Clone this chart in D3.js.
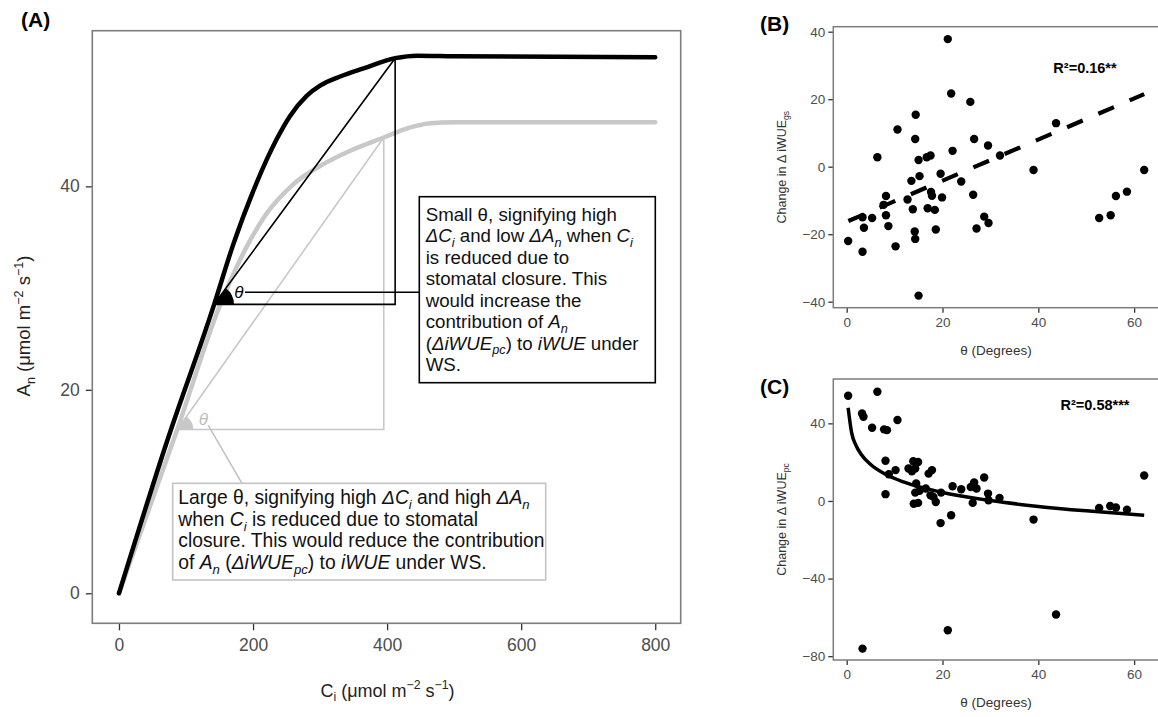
<!DOCTYPE html>
<html>
<head>
<meta charset="utf-8">
<script src="https://cdn.jsdelivr.net/npm/d3@7"></script>
<style>
  body { margin: 0; background: #fff; }
  svg { display: block; font-family: "Liberation Sans", Arial, sans-serif; }
</style>
</head>
<body>
<svg id="fig" width="1158" height="717"></svg>
<script>
// ---- panel A: An / Ci response curves ----
const ciTicks = [0, 200, 400, 600, 800];
const anTicks = [0, 20, 40];
const controlCi = [0, 70, 142, 170, 205, 235, 255, 280, 300, 330, 365, 412, 445, 500, 800];
const controlAn = [0, 14.6, 28.4, 34.2, 40.3, 44.6, 46.9, 48.9, 49.9, 50.8, 51.6, 52.6, 52.85, 52.8, 52.7];
const stressCi = [0, 87, 150, 190, 220, 260, 300, 345, 395, 430, 465, 500, 800];
const stressAn = [0, 16.1, 28.2, 34.0, 37.3, 40.2, 42.0, 43.5, 44.8, 45.7, 46.2, 46.3, 46.3];
// theta constructions: vertex and top point [Ci, An]
const smallVertex = [141.7, 28.4], smallTop = [412, 52.6];
const largeVertex = [87, 16.1], largeTop = [395, 44.8];

// ---- panel B: change in iWUEgs vs theta ----
const thetaTicks = [0, 20, 40, 60];
const gsTicks = [-40, -20, 0, 20, 40];
const thetaB = [21.1, 21.8, 25.8, 14.4, 10.6, 14.3, 26.6, 29.5, 43.7, 6.4, 22.1, 32.0, 16.7, 17.5, 15.0, 39.0, 62.1,
  15.2, 19.6, 13.5, 23.9, 26.4, 17.6, 17.8, 19.9, 8.2, 7.7, 12.7, 13.8, 16.9, 18.4, 3.3, 5.3, 8.2, 3.6, 8.7,
  28.7, 29.6, 27.1, 18.6, 14.2, 14.3, 0.3, 3.3, 10.2, 15.0, 52.7, 55.1, 56.2, 58.5];
const gsChange = [37.8, 21.7, 19.2, 15.4, 11.0, 8.2, 8.2, 6.3, 12.9, 2.8, 4.7, 3.3, 2.8, 3.3, 2.0, -1.0, -1.0,
  -2.8, -2.1, -4.2, -4.4, -8.3, -7.5, -8.6, -9.1, -8.7, -11.3, -9.7, -12.6, -12.3, -12.8, -15.0, -15.2, -14.4, -18.1, -17.6,
  -14.8, -16.7, -18.3, -18.6, -19.2, -21.4, -22.0, -25.2, -23.6, -38.2, -15.2, -14.4, -8.7, -7.4];
const fitBTheta = [0.35, 62.1];
const fitBValue = [-16.1, 21.5];

// ---- panel C: change in iWUEpc vs theta ----
const pcTicks = [-80, -40, 0, 40];
const thetaC = [0.3, 6.4, 3.2, 3.5, 5.3, 7.8, 8.4, 10.6, 8.1, 8.8, 8.1, 10.2, 12.9, 13.6, 13.9, 14.9, 14.3, 17.1, 17.8,
  14.5, 14.3, 15.2, 14.0, 14.9, 16.5, 17.5, 18.1, 18.6, 19.7, 22.1, 23.9, 19.6, 21.8, 25.9, 26.6, 27.1, 28.7, 26.3,
  29.5, 29.6, 31.9, 39.0, 52.7, 55.0, 56.2, 58.5, 62.1, 3.3, 21.1, 43.7];
const pcChange = [54.2, 56.3, 45.1, 43.4, 37.7, 36.9, 36.5, 41.7, 20.7, 13.8, 3.5, 15.9, 16.7, 15.3, 20.5, 20.1, 16.7, 14.1, 15.9,
  9.0, 4.3, 5.2, -1.4, -1.0, 6.4, 2.9, 2.1, -0.5, 4.3, 7.6, 6.0, -11.4, -7.4, 7.2, 9.5, 6.4, 12.1, -1.0,
  3.8, 0.4, 1.6, -9.6, -3.6, -2.6, -3.4, -4.5, 13.1, -76.1, -66.6, -58.5];
const fitCTheta = [0.3, 1, 2, 3, 5, 8, 12, 20, 30, 40, 50, 62.1];
const fitCValue = [48, 35.5, 28.3, 24.1, 18.8, 13.9, 9.7, 4.4, 0.2, -2.8, -5.1, -7.4];

const svg = d3.select("#fig");
const borderColor = "#7d7d7d";
const tickText = "#4d4d4d";

// writes one line of text made of [string, style] parts
// style: n normal, i italic, s italic subscript, S upright subscript, ^ superscript
function richText(g, x, y, parts, size, fill, anchor) {
  const t = g.append("text").attr("x", x).attr("y", y)
    .attr("font-size", size).attr("fill", fill)
    .attr("text-anchor", anchor || "start");
  let shift = 0;
  parts.forEach(([str, st]) => {
    const sub = st === "s" || st === "S";
    const sup = st === "^";
    const want = sub ? size * 0.25 : sup ? -size * 0.4 : 0;
    const ts = t.append("tspan").text(str).attr("dy", want - shift);
    shift = want;
    if (st === "i" || st === "s") ts.attr("font-style", "italic");
    if (sub || sup) ts.attr("font-size", size * 0.68);
  });
  return t;
}

function styleAxis(g, size) {
  g.attr("font-size", size).attr("font-family", null);
  g.select(".domain").remove();
  g.selectAll(".tick line").attr("stroke", "#333").attr("stroke-width", 1.3);
  g.selectAll(".tick text").attr("fill", tickText);
}

// ================= Panel A =================
const xA = d3.scaleLinear().domain([-39.8, 838]).range([92.3, 680.7]);
const yA = d3.scaleLinear().domain([-2.95, 55.3]).range([623.3, 30.7]);

const gA = svg.append("g");
gA.append("g").attr("transform", "translate(0,623.3)")
  .call(d3.axisBottom(xA).tickValues(ciTicks).tickSize(7).tickPadding(8))
  .call(g => styleAxis(g, 17.5));
gA.append("g").attr("transform", "translate(92.3,0)")
  .call(d3.axisLeft(yA).tickValues(anTicks).tickSize(6.5).tickPadding(6))
  .call(g => styleAxis(g, 17.5));

const lineA = d3.line().x(d => xA(d[0])).y(d => yA(d[1])).curve(d3.curveMonotoneX);

gA.append("path")
  .datum(stressCi.map((c, i) => [c, stressAn[i]]))
  .attr("d", lineA).attr("fill", "none")
  .attr("stroke", "#c8c8c8").attr("stroke-width", 4.5).attr("stroke-linecap", "round");

// theta constructions
function thetaConstruction(vertex, top, color, radius) {
  const p0 = [xA(vertex[0]), yA(vertex[1])];
  const p1 = [xA(top[0]), yA(top[1])];
  const tri = [[vertex[0], vertex[1]], [top[0], vertex[1]], [top[0], top[1]], [vertex[0], vertex[1]]];
  gA.append("path").datum(tri)
    .attr("d", d3.line().x(d => xA(d[0])).y(d => yA(d[1])))
    .attr("fill", "none").attr("stroke", color).attr("stroke-width", 1.6);
  const alpha = Math.atan2(p0[1] - p1[1], p1[0] - p0[0]);
  gA.append("path")
    .attr("transform", `translate(${p0[0]},${p0[1]})`)
    .attr("d", d3.arc()({ innerRadius: 0, outerRadius: radius, startAngle: Math.PI / 2 - alpha, endAngle: Math.PI / 2 }))
    .attr("fill", color);
  return p0;
}

const pg = thetaConstruction(largeVertex, largeTop, "#c8c8c8", 16);
gA.append("text").attr("x", pg[0] + 26).attr("y", pg[1] - 4)
  .attr("font-size", 17).attr("font-style", "italic").attr("fill", "#bdbdbd")
  .attr("text-anchor", "middle").text("θ");
gA.append("line").attr("x1", pg[0] + 31).attr("y1", pg[1] - 4).attr("x2", 242).attr("y2", 483.3)
  .attr("stroke", "#c0c0c0").attr("stroke-width", 1.5);

gA.append("path")
  .datum(controlCi.map((c, i) => [c, controlAn[i]]))
  .attr("d", lineA).attr("fill", "none")
  .attr("stroke", "#000").attr("stroke-width", 4.5).attr("stroke-linecap", "round");

const pb = thetaConstruction(smallVertex, smallTop, "#000", 20);
gA.append("text").attr("x", pb[0] + 25).attr("y", pb[1] - 6)
  .attr("font-size", 17).attr("font-style", "italic").attr("fill", "#000")
  .attr("text-anchor", "middle").text("θ");
gA.append("line").attr("x1", pb[0] + 31).attr("y1", pb[1] - 12).attr("x2", 419.3).attr("y2", pb[1] - 12)
  .attr("stroke", "#000").attr("stroke-width", 1.5);

// annotation boxes
const smallLines = [
  [["Small θ, signifying high", "n"]],
  [["ΔC", "i"], ["i", "s"], [" and low ", "n"], ["ΔA", "i"], ["n", "s"], [" when ", "n"], ["C", "i"], ["i", "s"]],
  [["is reduced due to", "n"]],
  [["stomatal closure. This", "n"]],
  [["would increase the", "n"]],
  [["contribution of ", "n"], ["A", "i"], ["n", "s"]],
  [["(", "n"], ["ΔiWUE", "i"], ["pc", "s"], [") to ", "n"], ["iWUE", "i"], [" under", "n"]],
  [["WS.", "n"]]
];
const largeLines = [
  [["Large θ, signifying high ", "n"], ["ΔC", "i"], ["i", "s"], [" and high ", "n"], ["ΔA", "i"], ["n", "s"]],
  [["when ", "n"], ["C", "i"], ["i", "s"], [" is reduced due to stomatal", "n"]],
  [["closure. This would reduce the contribution", "n"]],
  [["of ", "n"], ["A", "i"], ["n", "s"], [" (", "n"], ["ΔiWUE", "i"], ["pc", "s"], [") to ", "n"], ["iWUE", "i"], [" under WS.", "n"]]
];

gA.append("rect").attr("x", 419.3).attr("y", 196.7).attr("width", 236).attr("height", 186)
  .attr("fill", "#fff").attr("stroke", "#000").attr("stroke-width", 1.6);
smallLines.forEach((parts, i) => richText(gA, 425.7, 220.5 + i * 21.5, parts, 18.7, "#111"));

gA.append("rect").attr("x", 172.7).attr("y", 483.3).attr("width", 373).attr("height", 96.7)
  .attr("fill", "#fff").attr("stroke", "#c4c4c4").attr("stroke-width", 1.6);
largeLines.forEach((parts, i) => richText(gA, 178.3, 504 + i * 21.7, parts, 19.3, "#111"));

gA.append("rect").attr("x", 92.3).attr("y", 30.7).attr("width", 680.7 - 92.3).attr("height", 623.3 - 30.7)
  .attr("fill", "none").attr("stroke", borderColor).attr("stroke-width", 1.6);

richText(gA, 387.5, 696.5, [["C", "n"], ["i", "S"], [" (μmol m", "n"], ["−2", "^"], [" s", "n"], ["−1", "^"], [")", "n"]], 18, "#222", "middle");
richText(gA.append("g").attr("transform", "translate(30,326) rotate(-90)"), 0, 0,
  [["A", "n"], ["n", "S"], [" (μmol m", "n"], ["−2", "^"], [" s", "n"], ["−1", "^"], [")", "n"]], 18.5, "#222", "middle");

svg.append("text").attr("x", 21).attr("y", 27).attr("font-size", 21).attr("font-weight", "bold").text("(A)");

// ================= Panels B & C =================
const xBC = d3.scaleLinear().domain([-2.8, 65.4]).range([833.3, 1160]);

function scatterPanel(opts) {
  const y = d3.scaleLinear().domain(opts.yDomain).range([opts.bottom, opts.top]);
  const g = svg.append("g");
  g.append("g").attr("transform", `translate(0,${opts.bottom})`)
    .call(d3.axisBottom(xBC).tickValues(thetaTicks).tickSize(5).tickPadding(4.5))
    .call(a => styleAxis(a, 13.5));
  g.append("g").attr("transform", "translate(833.3,0)")
    .call(d3.axisLeft(y).tickValues(opts.ticks).tickSize(5).tickPadding(3))
    .call(a => styleAxis(a, 13.5));

  g.selectAll("circle").data(opts.xs.map((t, i) => [t, opts.ys[i]]))
    .join("circle")
    .attr("cx", d => xBC(d[0])).attr("cy", d => y(d[1])).attr("r", 4.2).attr("fill", "#000");

  const fit = opts.fitX.map((t, i) => [t, opts.fitY[i]]);
  g.append("path").datum(fit)
    .attr("d", d3.line().x(d => xBC(d[0])).y(d => y(d[1])).curve(d3.curveMonotoneX))
    .attr("fill", "none").attr("stroke", "#000")
    .attr("stroke-width", opts.dashed ? 4.2 : 3.5)
    .attr("stroke-dasharray", opts.dashed ? "17,17" : null);

  g.append("rect").attr("x", 833.3).attr("y", opts.top).attr("width", 1160 - 833.3).attr("height", opts.bottom - opts.top)
    .attr("fill", "none").attr("stroke", borderColor).attr("stroke-width", 1.5);

  g.append("text").attr("x", opts.rx).attr("y", opts.ry).attr("font-size", 14.5).attr("font-weight", "bold")
    .attr("text-anchor", "middle").text(opts.r2);
  g.append("text").attr("x", 996).attr("y", opts.bottom + 47).attr("font-size", 13.5).attr("fill", "#333")
    .attr("text-anchor", "middle").text("θ (Degrees)");
  richText(g.append("g").attr("transform", `translate(786,${(opts.top + opts.bottom) / 2}) rotate(-90)`), 0, 0,
    [["Change in Δ iWUE", "n"], [opts.sub, "S"]], 12.5, "#333", "middle");
  svg.append("text").attr("x", 760).attr("y", opts.labelY).attr("font-size", 21).attr("font-weight", "bold").text(opts.label);
}

scatterPanel({
  top: 26.7, bottom: 307.7, yDomain: [-41.78, 41.48], ticks: gsTicks,
  xs: thetaB, ys: gsChange, fitX: fitBTheta, fitY: fitBValue, dashed: true,
  r2: "R²=0.16**", rx: 1085, ry: 73, sub: "gs", label: "(B)", labelY: 31
});
scatterPanel({
  top: 379, bottom: 660, yDomain: [-81.97, 62.86], ticks: pcTicks,
  xs: thetaC, ys: pcChange, fitX: fitCTheta, fitY: fitCValue, dashed: false,
  r2: "R²=0.58***", rx: 1095, ry: 410, sub: "pc", label: "(C)", labelY: 394
});
</script>
</body>
</html>
